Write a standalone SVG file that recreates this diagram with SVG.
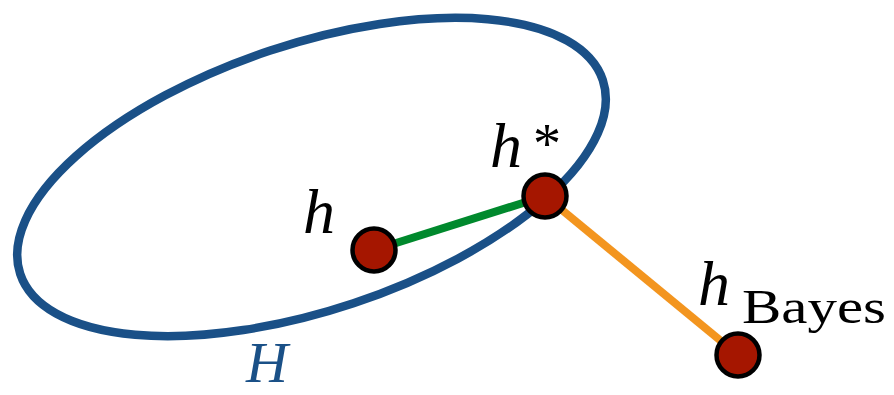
<svg xmlns="http://www.w3.org/2000/svg" width="894" height="395" viewBox="0 0 894 395">
<style>
.lbl{font-family:"Liberation Serif","Times New Roman",serif;fill:#000}
.it{font-style:italic}
.node{fill:#a51600;stroke:#000;stroke-width:4.5}
</style>
<rect width="894" height="395" fill="#fff"/>
<g id="set-H">
<ellipse cx="311.5" cy="177" rx="307" ry="133" transform="rotate(-18.4 311.5 177)" fill="none" stroke="#1a5087" stroke-width="8.5"/>
<text class="lbl it" x="246" y="382" font-size="58" style="fill:#1a5087">H</text>
</g>
<g id="connectors">
<line x1="374" y1="250" x2="545" y2="196" stroke="#00892d" stroke-width="8"/>
<line x1="545" y1="196" x2="738" y2="355" stroke="#f3951f" stroke-width="8"/>
</g>
<g id="node-h">
<circle class="node" cx="374" cy="250" r="21.5"/>
<text class="lbl it" x="303" y="233" font-size="64">h</text>
</g>
<g id="node-hstar">
<circle class="node" cx="545" cy="196" r="21.5"/>
<text class="lbl it" x="490" y="167" font-size="64">h</text>
<text class="lbl" x="533" y="163" font-size="56">*</text>
</g>
<g id="node-hbayes">
<circle class="node" cx="738" cy="355" r="21.5"/>
<text class="lbl it" x="698" y="305" font-size="64">h</text>
<text class="lbl" x="742" y="323" font-size="48" textLength="144" lengthAdjust="spacingAndGlyphs">Bayes</text>
</g>
</svg>
